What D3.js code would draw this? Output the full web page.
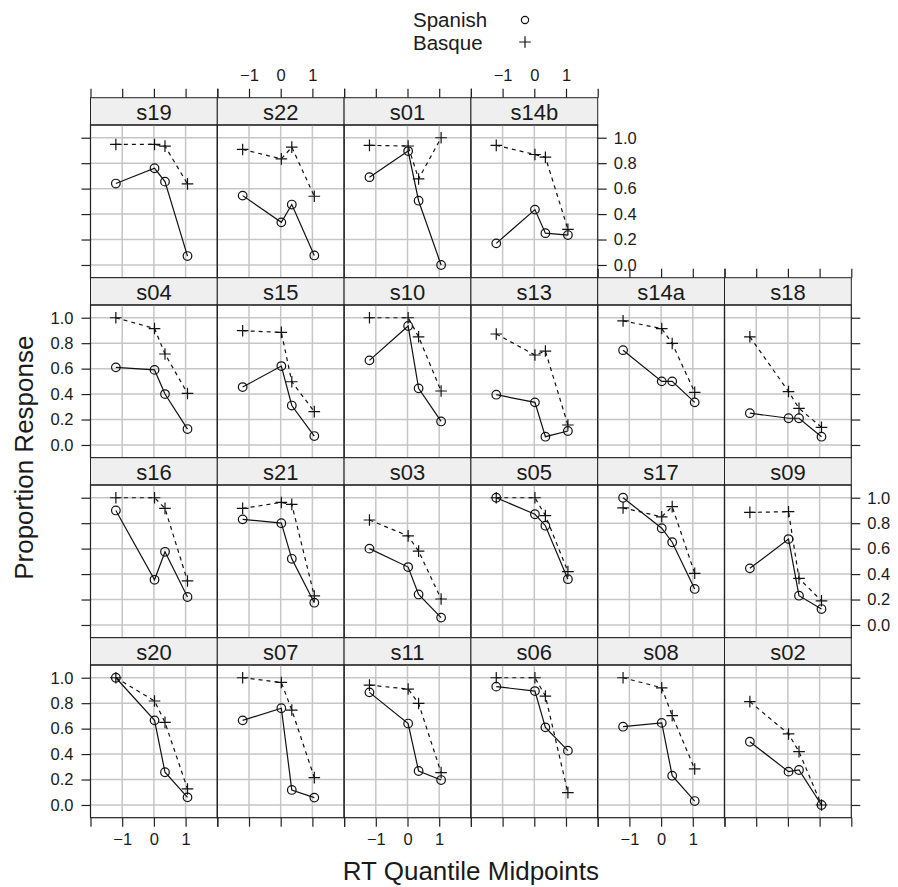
<!DOCTYPE html>
<html>
<head>
<meta charset="utf-8">
<script src="https://cdn.jsdelivr.net/npm/d3@7"></script>
<style>
  html, body { margin: 0; padding: 0; background: #fff; }
  svg { display: block; font-family: "Liberation Sans", Arial, Helvetica, sans-serif; }
</style>
</head>
<body>
<svg id="chart" width="898" height="887"></svg>
<script>
// ---------------- data ----------------
const layoutRows = [
  ["s19", "s22", "s01", "s14b"],
  ["s04", "s15", "s10", "s13", "s14a", "s18"],
  ["s16", "s21", "s03", "s05", "s17", "s09"],
  ["s20", "s07", "s11", "s06", "s08", "s02"]
];
const quantileMidpoints = [-1.2, 0.02, 0.35, 1.06];
const xTickValues = [-2, -1, 0, 1, 2];
const xTickLabels = ["", "\u22121", "0", "1", ""];
const yTickValues = [0, 0.2, 0.4, 0.6, 0.8, 1.0];
const yTickLabels = ["0.0", "0.2", "0.4", "0.6", "0.8", "1.0"];
const seriesNames = ["Spanish", "Basque"];

const spanish = {
  s19: [0.64, 0.76, 0.655, 0.07],
  s22: [0.545, 0.335, 0.475, 0.075],
  s01: [0.69, 0.895, 0.505, 0.0],
  s14b: [0.17, 0.435, 0.25, 0.235],
  s04: [0.61, 0.59, 0.40, 0.125],
  s15: [0.455, 0.62, 0.31, 0.07],
  s10: [0.665, 0.935, 0.445, 0.185],
  s13: [0.395, 0.335, 0.065, 0.11],
  s14a: [0.745, 0.50, 0.50, 0.335],
  s18: [0.25, 0.21, 0.21, 0.065],
  s16: [0.90, 0.355, 0.575, 0.22],
  s21: [0.83, 0.80, 0.52, 0.175],
  s03: [0.60, 0.455, 0.24, 0.058],
  s05: [1.0, 0.87, 0.78, 0.36],
  s17: [1.0, 0.76, 0.65, 0.283],
  s09: [0.445, 0.675, 0.23, 0.125],
  s20: [1.0, 0.665, 0.257, 0.06],
  s07: [0.665, 0.76, 0.118, 0.058],
  s11: [0.885, 0.64, 0.267, 0.196],
  s06: [0.93, 0.895, 0.61, 0.427],
  s08: [0.615, 0.645, 0.23, 0.031],
  s02: [0.497, 0.262, 0.275, 0.0]
};
const basque = {
  s19: [0.947, 0.947, 0.934, 0.637],
  s22: [0.908, 0.834, 0.926, 0.54],
  s01: [0.94, 0.935, 0.676, 1.0],
  s14b: [0.94, 0.868, 0.847, 0.28],
  s04: [1.0, 0.915, 0.715, 0.405],
  s15: [0.898, 0.885, 0.497, 0.262],
  s10: [1.0, 1.0, 0.85, 0.424],
  s13: [0.872, 0.707, 0.738, 0.157],
  s14a: [0.975, 0.915, 0.798, 0.414],
  s18: [0.85, 0.42, 0.288, 0.139],
  s16: [1.0, 1.0, 0.916, 0.346],
  s21: [0.916, 0.963, 0.948, 0.228],
  s03: [0.825, 0.70, 0.58, 0.204],
  s05: [1.0, 1.0, 0.86, 0.42],
  s17: [0.92, 0.85, 0.93, 0.406],
  s09: [0.885, 0.89, 0.366, 0.19],
  s20: [1.0, 0.817, 0.649, 0.126],
  s07: [1.0, 0.963, 0.746, 0.215],
  s11: [0.942, 0.911, 0.798, 0.254],
  s06: [1.0, 1.0, 0.856, 0.097],
  s08: [1.0, 0.921, 0.702, 0.283],
  s02: [0.812, 0.558, 0.419, 0.0]
};

// ---------------- layout ----------------
const left0 = 90.5, panelW = 126.8;
const top0 = 97.7, rowH = 180, stripH = 27.3, panelH = rowH - stripH;
const nCols = 6;
const tickLen = 9;
const gridColor = "#c6c6c6";
const frameColor = "#222";
const tickFont = 16.5;

const svg = d3.select("#chart");
const x = d3.scaleLinear().domain([-2, 2]).range([0, panelW]);
const y = d3.scaleLinear().domain([-0.1, 1.1]).range([panelH, 0]);

const circleR = 4.3, plusHalf = 5.8;
const plusPath = (cx, cy) => `M${cx - plusHalf},${cy}H${cx + plusHalf}M${cx},${cy - plusHalf}V${cy + plusHalf}`;

layoutRows.forEach((row, ri) => {
  row.forEach((name, ci) => {
    const gx = left0 + ci * panelW;
    const gy = top0 + ri * rowH;
    const g = svg.append("g").attr("transform", `translate(${gx},${gy})`);

    // strip
    g.append("rect").attr("x", 0).attr("y", 0).attr("width", panelW).attr("height", stripH)
      .attr("fill", "#efefef").attr("stroke", frameColor).attr("stroke-width", 1);
    g.append("text").attr("x", panelW / 2).attr("y", stripH / 2 + 1)
      .attr("text-anchor", "middle").attr("dominant-baseline", "central")
      .attr("font-size", 22).attr("fill", "#1a1a1a").text(name);

    const p = g.append("g").attr("transform", `translate(0,${stripH})`);
    // grid
    p.selectAll("line.vg").data([-1, 0, 1]).enter().append("line")
      .attr("x1", d => x(d)).attr("x2", d => x(d)).attr("y1", 0).attr("y2", panelH)
      .attr("stroke", gridColor).attr("stroke-width", 1.5);
    p.selectAll("line.hg").data(yTickValues).enter().append("line")
      .attr("x1", 0).attr("x2", panelW).attr("y1", d => y(d)).attr("y2", d => y(d))
      .attr("stroke", gridColor).attr("stroke-width", 1.5);

    const line = d3.line().x((d, i) => x(quantileMidpoints[i])).y(d => y(d));
    // Spanish: solid + circles
    p.append("path").attr("d", line(spanish[name])).attr("fill", "none")
      .attr("stroke", "#111").attr("stroke-width", 1.2);
    // Basque: dashed + plus
    p.append("path").attr("d", line(basque[name])).attr("fill", "none")
      .attr("stroke", "#111").attr("stroke-width", 1.2).attr("stroke-dasharray", "4,4");
    p.selectAll("circle.sp").data(spanish[name]).enter().append("circle")
      .attr("cx", (d, i) => x(quantileMidpoints[i])).attr("cy", d => y(d)).attr("r", circleR)
      .attr("fill", "none").attr("stroke", "#111").attr("stroke-width", 1.2);
    p.selectAll("path.bq").data(basque[name]).enter().append("path")
      .attr("d", (d, i) => plusPath(x(quantileMidpoints[i]), y(d)))
      .attr("stroke", "#111").attr("stroke-width", 1.2).attr("fill", "none");

    // frame
    p.append("rect").attr("x", 0).attr("y", 0).attr("width", panelW).attr("height", panelH)
      .attr("fill", "none").attr("stroke", frameColor).attr("stroke-width", 1.2);

    // ---- axes ----
    const isTopOfColumn = ri === 0 || (ri === 1 && ci >= layoutRows[0].length);
    const isLastInRow = ci === row.length - 1;
    if (isTopOfColumn) {
      const ax = d3.axisTop(x).tickValues(xTickValues).tickSize(tickLen).tickPadding(8)
        .tickFormat((d, i) => (ri === 0 && ci % 2 === 1) ? xTickLabels[i] : "");
      const a = g.append("g").attr("class", "axis").call(ax);
      styleAxis(a);
    }
    if (ri === layoutRows.length - 1) {
      const ax = d3.axisBottom(x).tickValues(xTickValues).tickSize(tickLen).tickPadding(7)
        .tickFormat((d, i) => (ci % 2 === 0) ? xTickLabels[i] : "");
      const a = p.append("g").attr("class", "axis").attr("transform", `translate(0,${panelH})`).call(ax);
      styleAxis(a);
    }
    if (ci === 0) {
      const ax = d3.axisLeft(y).tickValues(yTickValues).tickSize(tickLen).tickPadding(8)
        .tickFormat((d, i) => (ri % 2 === 1) ? yTickLabels[i] : "");
      const a = p.append("g").attr("class", "axis").call(ax);
      styleAxis(a);
    }
    if (isLastInRow) {
      const ax = d3.axisRight(y).tickValues(yTickValues).tickSize(tickLen).tickPadding(7)
        .tickFormat((d, i) => (ri % 2 === 0) ? yTickLabels[i] : "");
      const a = p.append("g").attr("class", "axis").attr("transform", `translate(${panelW},0)`).call(ax);
      styleAxis(a);
    }
  });
});

function styleAxis(a) {
  a.select(".domain").remove();
  a.selectAll(".tick line").attr("stroke", frameColor).attr("stroke-width", 1.2);
  a.selectAll(".tick text").attr("font-size", tickFont).attr("fill", "#1a1a1a")
    .attr("font-family", "'Liberation Sans', Arial, sans-serif");
}

// titles
const plotCenterX = left0 + nCols * panelW / 2;
svg.append("text").attr("x", plotCenterX).attr("y", 871)
  .attr("text-anchor", "middle").attr("dominant-baseline", "central")
  .attr("font-size", 26).attr("fill", "#1a1a1a").text("RT Quantile Midpoints");
const plotCenterY = top0 + layoutRows.length * rowH / 2;
svg.append("text").attr("transform", `translate(24,${plotCenterY}) rotate(-90)`)
  .attr("text-anchor", "middle").attr("dominant-baseline", "central")
  .attr("font-size", 26).attr("fill", "#1a1a1a").text("Proportion Response");

// legend
const legend = svg.append("g");
const legendY = [19, 42];
legend.selectAll("text").data(seriesNames).enter().append("text")
  .attr("x", 413).attr("y", (d, i) => legendY[i])
  .attr("dominant-baseline", "central").attr("font-size", 20.5).attr("fill", "#1a1a1a")
  .text(d => d);
legend.append("circle").attr("cx", 525).attr("cy", legendY[0] + 1).attr("r", 3.6)
  .attr("fill", "none").attr("stroke", "#111").attr("stroke-width", 1.2);
legend.append("path").attr("d", plusPath(525, legendY[1]))
  .attr("stroke", "#111").attr("stroke-width", 1.2);
</script>
</body>
</html>
